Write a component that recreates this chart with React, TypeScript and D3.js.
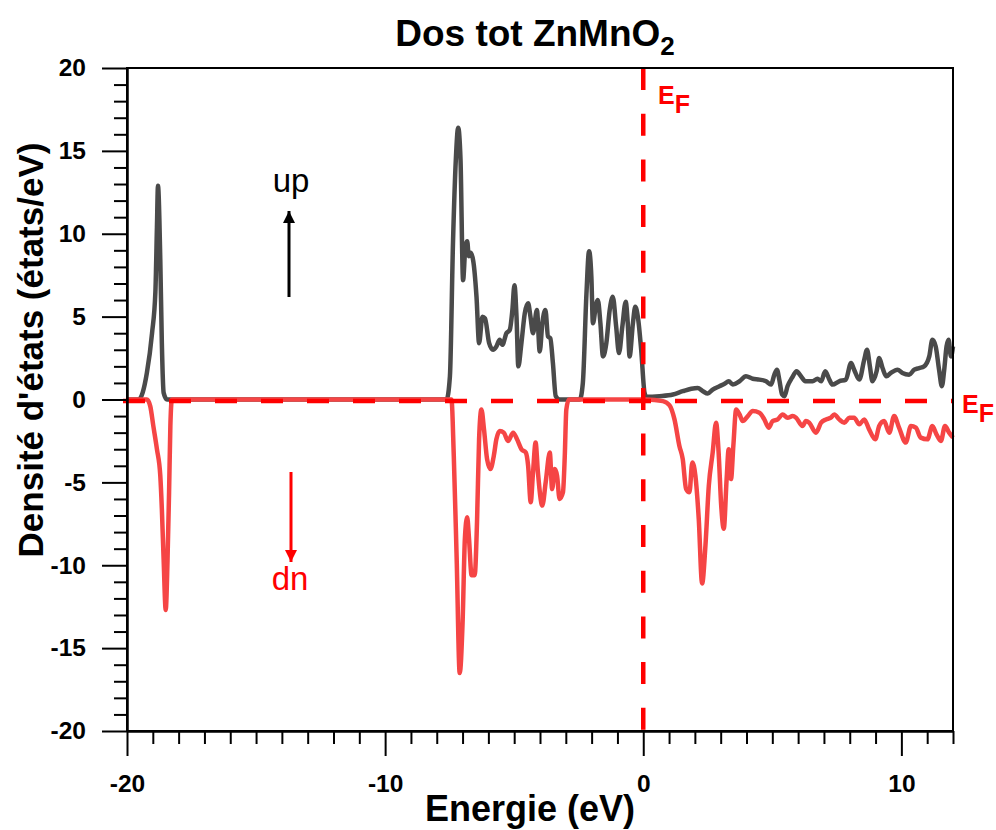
import React, { useEffect, useRef } from "react";
import * as d3 from "d3";

// spin up (black/grey curve)
const upEnergy = [
  -20, -19.55, -19.23, -19.03, -18.9, -18.84, -18.8, -18.71, -18.65, -18.58, -18.45,
  -7.62, -7.49, -7.37, -7.26, -7.17, -7.08, -6.98, -6.9, -6.82, -6.76, -6.69, -6.59,
  -6.46, -6.36, -6.23, -6.13, -5.97, -5.82, -5.69, -5.56, -5.46, -5.3, -5.17, -5.07,
  -4.99, -4.91, -4.84, -4.72, -4.59, -4.46, -4.37, -4.27, -4.12, -4.01, -3.91, -3.79,
  -3.69, -3.6, -3.5, -3.39, -3.24, -2.46, -2.34, -2.2, -2.1, -2.01, -1.95, -1.82,
  -1.76, -1.66, -1.56, -1.43, -1.3, -1.18, -1.05, -0.94, -0.81, -0.68, -0.6, -0.53,
  -0.4, -0.31, -0.21, -0.08, 0.05, 0.12, 0.63, 1.15, 1.53, 1.86, 2.11, 2.31, 2.5,
  2.69, 2.95, 3.15, 3.31, 3.47, 3.73, 3.98, 4.24, 4.5, 4.76, 4.95, 5.08, 5.18, 5.27,
  5.38, 5.47, 5.59, 5.76, 5.94, 6.11, 6.28, 6.56, 6.75, 6.89, 7.05, 7.21, 7.33, 7.59,
  7.85, 8.05, 8.17, 8.37, 8.56, 8.67, 8.78, 8.88, 9.04, 9.14, 9.27, 9.42, 9.59, 9.85,
  10.04, 10.3, 10.5, 10.69, 10.88, 11.08, 11.2, 11.33, 11.46, 11.57, 11.66, 11.75,
  11.83, 11.92, 12,
];
const upDos = [
  0, 0, 1.6, 4.0, 6.5, 10.4, 12.9, 8.4, 3.4, 0.4, 0,
  0, 1.4, 9.5, 14.5, 16.4, 14.5, 7.2, 9.0, 9.55, 8.65, 8.85, 8.4,
  6.2, 3.4, 5.0, 4.9, 3.4, 3.0, 3.2, 3.6, 3.3, 4.0, 4.2, 5.4,
  6.9, 5.0, 2.0, 3.4, 5.2, 5.8, 5.0, 4.0, 5.4, 2.9, 4.6, 5.4,
  3.8, 3.7, 2.2, 0.2, 0, 0, 1.0, 6.4, 8.95, 7.4, 4.6, 5.8,
  6.0, 4.6, 2.6, 3.4, 5.4, 6.2, 4.4, 2.8, 4.4, 5.9, 4.6, 2.6,
  4.6, 5.6, 5.0, 3.0, 0.4, 0.16, 0.2, 0.3, 0.5, 0.65, 0.7, 0.5, 0.36,
  0.6, 0.8, 0.95, 1.1, 0.9, 1.1, 1.4, 1.25, 1.2, 1.1, 0.9, 1.5, 1.8, 1.2,
  0.3, 0.2, 0.8, 1.3, 1.7, 1.4, 1.1, 1.1, 1.25, 1.1, 1.7, 1.2, 0.9, 1.1,
  1.2, 2.2, 1.8, 1.2, 2.4, 3.0, 2.0, 1.1, 1.7, 2.5, 1.9, 1.4, 1.6, 1.8,
  1.6, 1.5, 1.8, 1.9, 2.0, 2.6, 3.6, 3.2, 1.8, 0.8, 1.8, 3.2,
  3.6, 2.6, 3.2,
];

// spin down (red curve)
const dnEnergy = [
  -20, -19.23, -19.1, -18.98, -18.84, -18.71, -18.65, -18.58, -18.5, -18.43, -18.37,
  -18.32, -18.26, -7.43, -7.34, -7.23, -7.11, -7.0, -6.91, -6.82, -6.75, -6.65, -6.53,
  -6.44, -6.36, -6.27, -6.17, -6.05, -5.92, -5.79, -5.69, -5.56, -5.4, -5.24, -5.04,
  -4.89, -4.72, -4.55, -4.46, -4.36, -4.27, -4.17, -4.08, -3.91, -3.78, -3.62, -3.53,
  -3.43, -3.34, -3.24, -3.11, -3.04, -2.98, -2.88, 0.12, 0.76, 1.02, 1.21, 1.4, 1.53,
  1.66, 1.79, 1.9, 2.02, 2.15, 2.28, 2.41, 2.54, 2.69, 2.82, 2.92, 3.02, 3.12, 3.23,
  3.31, 3.4, 3.49, 3.6, 3.73, 3.85, 4.05, 4.24, 4.5, 4.69, 4.86, 5.01, 5.21, 5.4,
  5.59, 5.79, 5.92, 6.17, 6.3, 6.43, 6.69, 6.89, 7.08, 7.27, 7.4, 7.59, 7.79, 7.98,
  8.17, 8.37, 8.56, 8.75, 8.99, 9.14, 9.33, 9.53, 9.72, 9.91, 10.17, 10.37, 10.56,
  10.75, 11.01, 11.2, 11.36, 11.53, 11.69, 11.85, 12,
];
const dnDos = [
  0, 0, -0.4, -1.6, -3.0, -4.6, -6.6, -9.7, -12.7, -9.7, -5.6,
  -1.6, 0, 0, -3.4, -9.5, -16.5, -13.5, -8.4, -7.1, -8.4, -10.6, -10.6,
  -7.4, -2.4, -0.6, -1.8, -3.6, -4.2, -3.4, -2.4, -1.9, -2.0, -2.5, -2.0,
  -2.4, -3.0, -3.2, -4.0, -6.2, -4.4, -2.6, -4.4, -6.4, -5.0, -3.2, -5.4,
  -4.2, -4.6, -6.0, -5.6, -3.4, -0.6, 0, 0, -0.1, -0.35, -1.2, -2.8, -3.6,
  -5.4, -5.6, -3.8, -4.6, -7.2, -11.1, -8.8, -5.2, -3.2, -1.4, -3.2, -6.4, -7.8, -4.8,
  -3.0, -4.8, -2.8, -0.6, -0.9, -1.3, -1.0, -0.7, -0.8, -1.2, -1.7, -1.3, -1.2, -0.9,
  -1.1, -1.0, -1.1, -1.6, -1.3, -1.4, -2.0, -1.4, -1.2, -1.1, -0.9, -1.2, -1.4, -1.1,
  -1.1, -1.5, -1.2, -1.8, -2.4, -1.6, -1.3, -2.0, -1.0, -1.7, -2.6, -1.6, -1.7,
  -2.3, -2.4, -1.6, -2.1, -2.5, -1.6, -2.0, -2.3,
];

const xMajor = [-20, -10, 0, 10];
const yMajor = [20, 15, 10, 5, 0, -5, -10, -15, -20];
const xMinor = d3.range(-20, 13, 1).filter(v => !xMajor.includes(v));
const yMinor = d3.range(-20, 21, 1).filter(v => !yMajor.includes(v));

const FONT = "'Liberation Sans', Arial, sans-serif";

export default function App() {
  const ref = useRef<SVGSVGElement>(null);

  useEffect(() => {
    document.body.style.margin = "0";
    const svg = d3.select(ref.current);
    svg.selectAll("*").remove();

    const x = d3.scaleLinear().domain([-20, 12]).range([127, 953]);
    const y = d3.scaleLinear().domain([-20, 20]).range([731, 68]);

    // curves
    const line = d3.line<[number, number]>()
      .x(d => x(d[0]))
      .y(d => y(d[1]))
      .curve(d3.curveMonotoneX);

    const up = upEnergy.map((e, i) => [e, upDos[i]] as [number, number]);
    const dn = dnEnergy.map((e, i) => [e, dnDos[i]] as [number, number]);

    svg.append("path").datum(up)
      .attr("d", line)
      .attr("fill", "none")
      .attr("stroke", "#4a4a4a")
      .attr("stroke-width", 4.5)
      .attr("stroke-linejoin", "round");

    svg.append("path").datum(dn)
      .attr("d", line)
      .attr("fill", "none")
      .attr("stroke", "#f54545")
      .attr("stroke-width", 4.5)
      .attr("stroke-linejoin", "round");

    // fermi level dashes
    svg.append("line")
      .attr("x1", x(0)).attr("x2", x(0))
      .attr("y1", y(20)).attr("y2", y(-20))
      .attr("stroke", "#ff0000").attr("stroke-width", 4.5)
      .attr("stroke-dasharray", "22 23.7");
    svg.append("line")
      .attr("x1", x(-20) - 4).attr("x2", x(12))
      .attr("y1", y(0) + 1.5).attr("y2", y(0) + 1.5)
      .attr("stroke", "#ff0000").attr("stroke-width", 4.5)
      .attr("stroke-dasharray", "22 24");

    // frame
    svg.append("rect")
      .attr("x", x(-20)).attr("y", y(20))
      .attr("width", x(12) - x(-20)).attr("height", y(-20) - y(20))
      .attr("fill", "none").attr("stroke", "#000").attr("stroke-width", 2);

    // axes
    const fmt = (d: d3.NumberValue) => String(d);
    svg.append("g").attr("transform", `translate(${x(-20)},0)`)
      .call(d3.axisLeft(y).tickValues(yMinor).tickSize(13).tickFormat(() => "").tickSizeOuter(0));
    svg.append("g").attr("transform", `translate(${x(-20)},0)`)
      .call(d3.axisLeft(y).tickValues(yMajor).tickSize(25).tickPadding(16).tickFormat(fmt).tickSizeOuter(0));

    svg.append("g").attr("transform", `translate(0,${y(-20)})`)
      .call(d3.axisBottom(x).tickValues(xMinor).tickSize(13).tickFormat(() => "").tickSizeOuter(0));
    svg.append("g").attr("transform", `translate(0,${y(-20)})`)
      .call(d3.axisBottom(x).tickValues(xMajor).tickSize(25).tickPadding(19).tickFormat(fmt).tickSizeOuter(0));

    svg.selectAll(".domain").attr("stroke-width", 2);
    svg.selectAll(".tick line").attr("stroke-width", 2);
    svg.selectAll(".tick text")
      .attr("font-family", FONT)
      .attr("font-size", 24.5)
      .attr("font-weight", "bold")
      .attr("fill", "#000");

    // titles
    const title = svg.append("text")
      .attr("x", 535).attr("y", 46)
      .attr("text-anchor", "middle")
      .attr("font-family", FONT).attr("font-size", 37).attr("font-weight", "bold");
    title.append("tspan").text("Dos tot ZnMnO");
    title.append("tspan").attr("dy", 9).attr("font-size", 26).text("2");

    svg.append("text")
      .attr("transform", "translate(43,350) rotate(-90)")
      .attr("text-anchor", "middle")
      .attr("font-family", FONT).attr("font-size", 35).attr("font-weight", "bold")
      .text("Densité d'états (états/eV)");

    svg.append("text")
      .attr("x", 530).attr("y", 821)
      .attr("text-anchor", "middle")
      .attr("font-family", FONT).attr("font-size", 36).attr("font-weight", "bold")
      .text("Energie (eV)");

    // E_F labels
    const ef = (px: number, py: number) => {
      const t = svg.append("text")
        .attr("x", px).attr("y", py)
        .attr("font-family", FONT).attr("font-size", 25).attr("font-weight", "bold")
        .attr("fill", "#ff0000");
      t.append("tspan").text("E");
      t.append("tspan").attr("dy", 9).text("F");
    };
    ef(658, 104);
    ef(962, 413);

    // spin arrows
    const defs = svg.append("defs");
    const mk = (id: string, color: string) =>
      defs.append("marker")
        .attr("id", id).attr("viewBox", "0 0 10 10")
        .attr("refX", 10).attr("refY", 5)
        .attr("markerWidth", 20).attr("markerHeight", 12)
        .attr("markerUnits", "userSpaceOnUse")
        .attr("orient", "auto")
        .append("path").attr("d", "M0,0 L10,5 L0,10 Z").attr("fill", color);
    mk("arrUp", "#000");
    mk("arrDn", "#ff0000");

    svg.append("line")
      .attr("x1", 289).attr("x2", 289).attr("y1", 297).attr("y2", 211)
      .attr("stroke", "#000").attr("stroke-width", 3)
      .attr("marker-end", "url(#arrUp)");
    svg.append("line")
      .attr("x1", 291).attr("x2", 291).attr("y1", 472).attr("y2", 562)
      .attr("stroke", "#ff0000").attr("stroke-width", 3)
      .attr("marker-end", "url(#arrDn)");

    svg.append("text")
      .attr("x", 291).attr("y", 192)
      .attr("text-anchor", "middle")
      .attr("font-family", FONT).attr("font-size", 33)
      .text("up");
    svg.append("text")
      .attr("x", 290).attr("y", 590)
      .attr("text-anchor", "middle")
      .attr("font-family", FONT).attr("font-size", 33)
      .attr("fill", "#ff0000")
      .text("dn");
  }, []);

  return <svg ref={ref} width={996} height={830} style={{ display: "block", background: "#fff" }} />;
}
